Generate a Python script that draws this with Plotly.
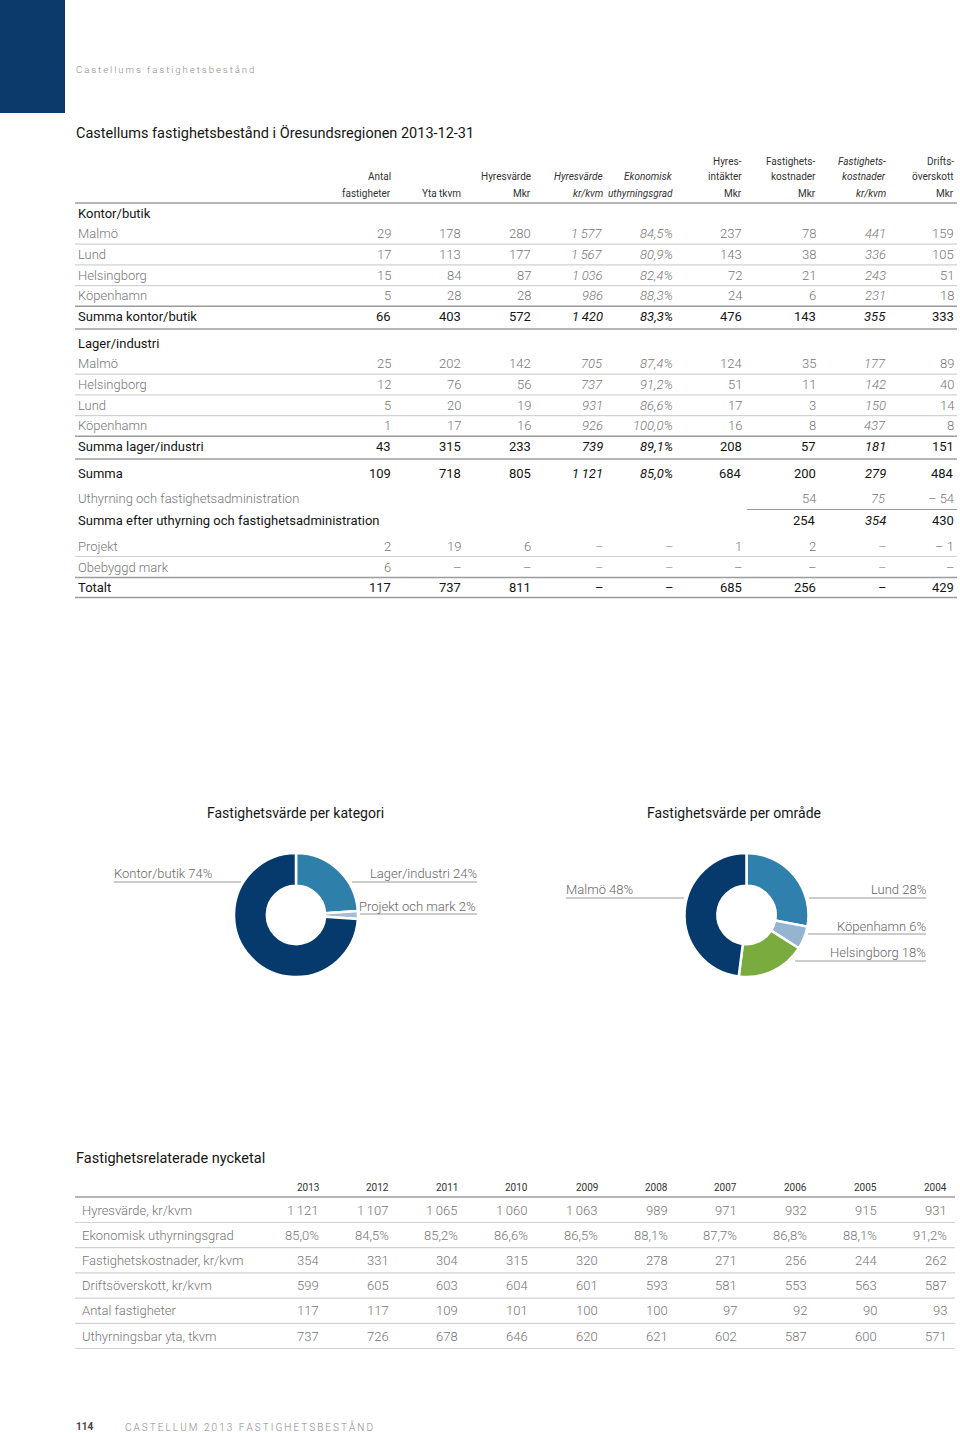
import plotly.graph_objects as go

W, H = 960, 1433
FONT = "Roboto, Liberation Sans, sans-serif"
DASH = "dash"

# ---------------- Data: table 1 ----------------
header_cols = [
    ["", "Antal", "fastigheter"],
    ["", "", "Yta tkvm"],
    ["", "Hyresvärde", "Mkr"],
    ["", "Hyresvärde", "kr/kvm"],
    ["", "Ekonomisk", "uthyrningsgrad"],
    ["Hyres-", "intäkter", "Mkr"],
    ["Fastighets-", "kostnader", "Mkr"],
    ["Fastighets-", "kostnader", "kr/kvm"],
    ["Drifts-", "överskott", "Mkr"],
]
italic_cols = [3, 4, 7]

kontor_title = "Kontor/butik"
kontor_cities = ["Malmö", "Lund", "Helsingborg", "Köpenhamn"]
kontor_values = [
    [29, 178, 280, 1577, 84.5, 237, 78, 441, 159],
    [17, 113, 177, 1567, 80.9, 143, 38, 336, 105],
    [15, 84, 87, 1036, 82.4, 72, 21, 243, 51],
    [5, 28, 28, 986, 88.3, 24, 6, 231, 18],
]
kontor_sum_label = "Summa kontor/butik"
kontor_sum = [66, 403, 572, 1420, 83.3, 476, 143, 355, 333]

lager_title = "Lager/industri"
lager_cities = ["Malmö", "Helsingborg", "Lund", "Köpenhamn"]
lager_values = [
    [25, 202, 142, 705, 87.4, 124, 35, 177, 89],
    [12, 76, 56, 737, 91.2, 51, 11, 142, 40],
    [5, 20, 19, 931, 86.6, 17, 3, 150, 14],
    [1, 17, 16, 926, 100.0, 16, 8, 437, 8],
]
lager_sum_label = "Summa lager/industri"
lager_sum = [43, 315, 233, 739, 89.1, 208, 57, 181, 151]

summa_label = "Summa"
summa_values = [109, 718, 805, 1121, 85.0, 684, 200, 279, 484]
uthyrning_label = "Uthyrning och fastighetsadministration"
uthyrning_values = [None, None, None, None, None, None, 54, 75, -54]
efter_label = "Summa efter uthyrning och fastighetsadministration"
efter_values = [None, None, None, None, None, None, 254, 354, 430]
projekt_label = "Projekt"
projekt_values = [2, 19, 6, DASH, DASH, 1, 2, DASH, -1]
mark_label = "Obebyggd mark"
mark_values = [6, DASH, DASH, DASH, DASH, DASH, DASH, DASH, DASH]
totalt_label = "Totalt"
totalt_values = [117, 737, 811, DASH, DASH, 685, 256, DASH, 429]

# ---------------- Data: pies ----------------
cat_labels = ["Lager/industri", "Projekt och mark", "Kontor/butik"]
cat_values = [24, 2, 74]
cat_colors = ["#2f7fab", "#a8bdd2", "#063a6c"]

area_labels = ["Lund", "Köpenhamn", "Helsingborg", "Malmö"]
area_values = [28, 6, 18, 48]
area_colors = ["#2f80ac", "#95b4d0", "#7aab3e", "#063a6c"]

# ---------------- Data: table 2 ----------------
years = [2013, 2012, 2011, 2010, 2009, 2008, 2007, 2006, 2005, 2004]
nyckel_labels = ["Hyresvärde, kr/kvm", "Ekonomisk uthyrningsgrad", "Fastighetskostnader, kr/kvm",
                 "Driftsöverskott, kr/kvm", "Antal fastigheter", "Uthyrningsbar yta, tkvm"]
hyresvarde = [1121, 1107, 1065, 1060, 1063, 989, 971, 932, 915, 931]
uthyrningsgrad = [85.0, 84.5, 85.2, 86.6, 86.5, 88.1, 87.7, 86.8, 88.1, 91.2]
fastighetskostnader = [354, 331, 304, 315, 320, 278, 271, 256, 244, 262]
driftsoverskott = [599, 605, 603, 604, 601, 593, 581, 553, 563, 587]
antal_fastigheter = [117, 117, 109, 101, 100, 100, 97, 92, 90, 93]
uthyrningsbar_yta = [737, 726, 678, 646, 620, 621, 602, 587, 600, 571]

# ---------------- helpers ----------------
def X(px):
    return px / W

def Y(py):
    return 1 - py / H

def fmt_int(v):
    s = f"{abs(int(v)):,}".replace(",", "\u2009")
    return ("– " + s) if v < 0 else s

def fmt(v, pct=False):
    if v is None:
        return ""
    if v == DASH:
        return "–"
    if pct:
        return f"{v:.1f}".replace(".", ",") + "%"
    return fmt_int(v)

def spaced(s):
    return "\u2009".join(list(s))

annotations = []
shapes = []

def text(x, y, s, size=13, color="#222", anchor="left", italic=False, bold=False, weight=400):
    if italic:
        s = "<i>" + s + "</i>"
    if bold:
        s = "<b>" + s + "</b>"
    shift = {"left": -2, "right": 2, "center": 0}[anchor]
    annotations.append(dict(x=X(x), y=Y(y), xref="paper", yref="paper", text=s,
                            showarrow=False, xanchor=anchor, yanchor="middle", xshift=shift,
                            font=dict(family=FONT, size=size, color=color, weight=weight)))

def hline(x0, x1, y, color="#cfcfcf", width=1):
    shapes.append(dict(type="line", xref="paper", yref="paper", x0=X(x0), x1=X(x1),
                       y0=Y(y), y1=Y(y), line=dict(color=color, width=width)))

GRAY = "#767676"
BLACK = "#151515"
LIGHT = "#d2d2d2"
DARK = "#9c9c9c"
TS = 13  # table font size

# ---------------- page decorations ----------------
shapes.append(dict(type="rect", xref="paper", yref="paper", x0=0, x1=X(65), y0=Y(113), y1=1,
                   fillcolor="#0b3a6b", line=dict(width=0)))
text(76, 70, spaced("Castellums fastighetsbestånd"), size=9.6, color="#8a8a8a", weight=300)
text(76, 133, "Castellums fastighetsbestånd i Öresundsregionen 2013-12-31", size=14.5, color=BLACK)

# ---------------- table 1 ----------------
L0, L1 = 75, 957
col_right = [391, 461, 531, 603, 673, 742, 816, 886, 954]
for ci, lines in enumerate(header_cols):
    for li, s in enumerate(lines):
        if s:
            text(col_right[ci], 161 + 16 * li, s, size=10, color="#333", anchor="right",
                 italic=ci in italic_cols)
hline(L0, L1, 203, DARK, 1.6)

def data_row(y, label, vals, color, weight):
    text(78, y, label, size=TS, color=color, weight=weight)
    for ci, v in enumerate(vals):
        text(col_right[ci], y, fmt(v, pct=(ci == 4)), size=TS, color=color, anchor="right",
             italic=ci in italic_cols, weight=weight)

def group(y, title, cities, values, sum_label, sums):
    text(78, y, title, size=TS, color=BLACK)
    y += 20.7
    for i, (c, v) in enumerate(zip(cities, values)):
        data_row(y, c, v, GRAY, 300)
        last = i == len(cities) - 1
        hline(L0, L1, y + 10.5, DARK if last else LIGHT, 1.6 if last else 1.2)
        y += 20.7
    data_row(y, sum_label, sums, BLACK, 400)
    hline(L0, L1, y + 12.5, DARK, 1.6)
    return y

group(213, kontor_title, kontor_cities, kontor_values, kontor_sum_label, kontor_sum)
group(343, lager_title, lager_cities, lager_values, lager_sum_label, lager_sum)
data_row(473, summa_label, summa_values, BLACK, 400)
data_row(499, uthyrning_label, uthyrning_values, GRAY, 300)
hline(747, L1, 509.5, DARK, 1.2)
data_row(520, efter_label, efter_values, BLACK, 400)
data_row(546, projekt_label, projekt_values, GRAY, 300)
hline(L0, L1, 556.5, LIGHT, 1.2)
data_row(567, mark_label, mark_values, GRAY, 300)
hline(L0, L1, 577.5, DARK, 1.6)
data_row(587, totalt_label, totalt_values, BLACK, 400)
hline(L0, L1, 597.5, DARK, 1.6)

# ---------------- pies ----------------
text(295, 813, "Fastighetsvärde per kategori", size=14, color=BLACK, anchor="center")
text(734, 813, "Fastighetsvärde per område", size=14, color=BLACK, anchor="center")

def pie(cx, cy, r, labels, values, colors):
    return go.Pie(labels=labels, values=values, hole=0.47, sort=False, direction="clockwise",
                  rotation=0, textinfo="none", hoverinfo="label+percent", showlegend=False,
                  marker=dict(colors=colors, line=dict(color="white", width=2.5)),
                  domain=dict(x=[X(cx - r), X(cx + r)], y=[Y(cy + r), Y(cy - r)]))

fig = go.Figure()
fig.add_trace(pie(296, 915, 62, cat_labels, cat_values, cat_colors))
fig.add_trace(pie(746.5, 915, 62, area_labels, area_values, area_colors))

PL = "#666666"
LL = "#9a9a9a"
PS = 13
lbl = {l: f"{l} {v}%" for l, v in zip(cat_labels, cat_values)}
text(114, 873, lbl["Kontor/butik"], size=PS, color=PL, weight=300)
hline(114, 241, 882, LL, 1)
text(477, 873, lbl["Lager/industri"], size=PS, color=PL, anchor="right", weight=300)
hline(352, 477, 882, LL, 1)
text(476, 906, lbl["Projekt och mark"], size=PS, color=PL, anchor="right", weight=300)
hline(360, 477, 914, LL, 1)

lbl = {l: f"{l} {v}%" for l, v in zip(area_labels, area_values)}
text(566, 889, lbl["Malmö"], size=PS, color=PL, weight=300)
hline(566, 684, 898, LL, 1)
text(926, 889, lbl["Lund"], size=PS, color=PL, anchor="right", weight=300)
hline(809, 926, 898, LL, 1)
text(926, 926, lbl["Köpenhamn"], size=PS, color=PL, anchor="right", weight=300)
hline(808, 926, 934, LL, 1)
text(926, 952, lbl["Helsingborg"], size=PS, color=PL, anchor="right", weight=300)
hline(795, 926, 961, LL, 1)

# ---------------- table 2 ----------------
text(76, 1158, "Fastighetsrelaterade nycketal", size=14.5, color=BLACK)
year_right = [319, 389, 458, 528, 598, 668, 737, 807, 877, 947]
for xr, yr in zip(year_right, years):
    text(xr, 1187, str(yr), size=10, color="#333", anchor="right")
hline(75, 955, 1197, DARK, 1.6)
nyckel_rows = [hyresvarde, uthyrningsgrad, fastighetskostnader, driftsoverskott,
               antal_fastigheter, uthyrningsbar_yta]
for ri, (lab, vals) in enumerate(zip(nyckel_labels, nyckel_rows)):
    yy = 1210 + 25.2 * ri
    text(82, yy, lab, size=TS, color=GRAY, weight=300)
    for xr, v in zip(year_right, vals):
        text(xr, yy, fmt(v, pct=(ri == 1)), size=TS, color=GRAY, anchor="right", weight=300)
    hline(75, 955, yy + 12.5, LIGHT, 1.2)

# ---------------- footer ----------------
text(76, 1426, "<b>114</b>", size=10, color="#444")
text(125, 1426, spaced("CASTELLUM 2013 FASTIGHETSBESTÅND"), size=10, color="#8a8a8a", weight=300)

fig.update_layout(width=W, height=H, margin=dict(l=0, r=0, t=0, b=0),
                  paper_bgcolor="white", plot_bgcolor="white",
                  annotations=annotations, shapes=shapes,
                  xaxis=dict(visible=False), yaxis=dict(visible=False))
fig.write_html("out.html", config={"displayModeBar": False},
               post_script="document.body.style.margin='0';document.body.style.overflow='hidden';")
